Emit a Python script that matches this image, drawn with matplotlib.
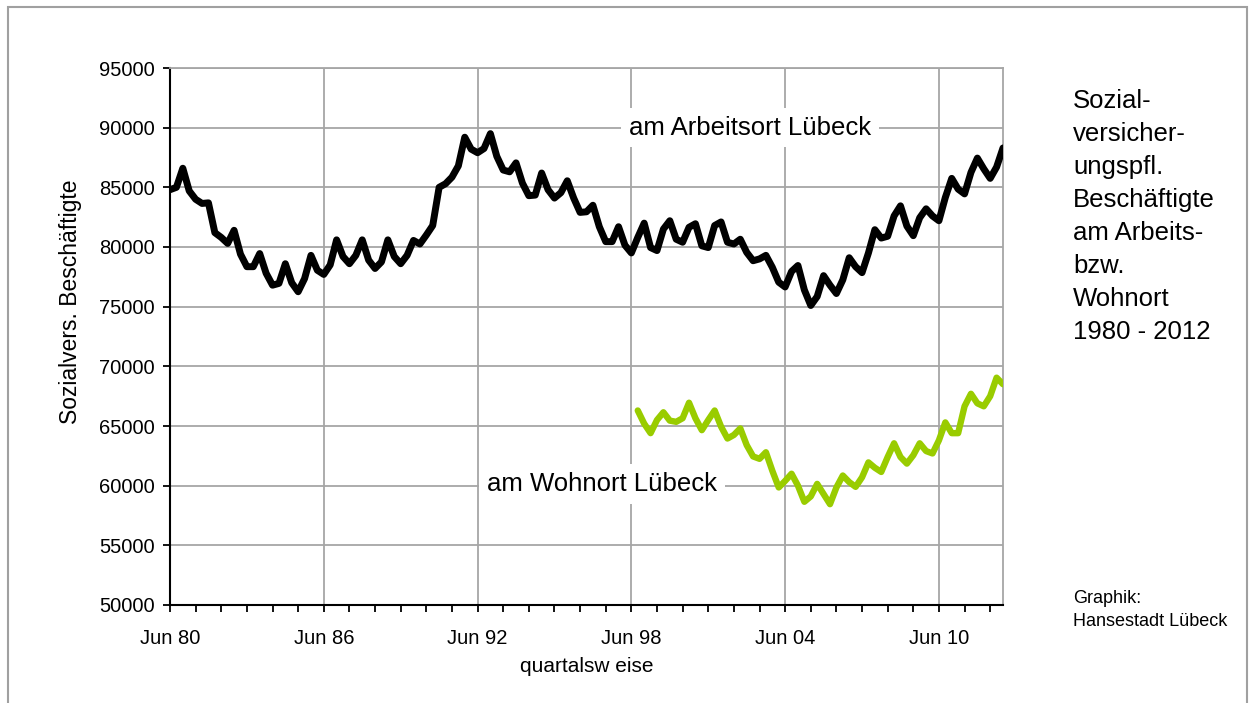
import numpy as np
import matplotlib
matplotlib.use('Agg')
import matplotlib.pyplot as plt
from matplotlib.patches import Rectangle

# quarterly values, first quarter = Jun 80
arbeitsort = [84800, 85000, 86600, 84700, 84000, 83650, 83700, 81200, 80800, 80300,
              81400, 79400, 78350, 78350, 79450, 77800, 76800, 76950, 78600, 77000,
              76250, 77350, 79300, 78050, 77700, 78500, 80600, 79200, 78600, 79300,
              80600, 78900, 78200, 78750, 80600, 79200, 78600, 79300, 80550, 80250,
              81000, 81800, 85000, 85300, 85850, 86800, 89200, 88200, 87900, 88250,
              89500, 87600, 86450, 86300, 87050, 85350, 84300, 84350, 86200, 84800,
              84100, 84550, 85550, 84100, 82900, 82950, 83500, 81700, 80450, 80450,
              81700, 80150, 79500, 80800, 82000, 79950, 79700, 81500, 82200, 80650,
              80400, 81650, 81950, 80100, 79950, 81800, 82100, 80400, 80250, 80650,
              79550, 78850, 79000, 79300, 78300, 77050, 76650, 77950, 78450, 76400,
              75100, 75850, 77600, 76800, 76100, 77250, 79100, 78350, 77850, 79500,
              81450, 80750, 80900, 82600, 83450, 81750, 80950, 82450, 83200, 82600,
              82200, 84150, 85750, 84850, 84450, 86250, 87450, 86550, 85750, 86700,
              88300]

# starts Sep 98 (quarter 73)
wohnort_start = 73
wohnort = [66300, 65200, 64400, 65500, 66150, 65450, 65350, 65650, 66950, 65650,
           64650, 65500, 66300, 64950, 63950, 64250, 64800, 63400, 62450, 62250,
           62800, 61250, 59850, 60400, 61000, 60000, 58650, 59100, 60150, 59300,
           58450, 59850, 60850, 60300, 59900, 60700, 61950, 61500, 61150, 62400,
           63550, 62400, 61850, 62550, 63550, 62900, 62700, 63800, 65300, 64400,
           64400, 66650, 67700, 66900, 66650, 67500, 69050, 68500]

tick_labels = ['Jun 80', 'Jun 86', 'Jun 92', 'Jun 98', 'Jun 04', 'Jun 10']
y_ticks = [50000, 55000, 60000, 65000, 70000, 75000, 80000, 85000, 90000, 95000]

plt.rcParams['font.family'] = ['Liberation Sans', 'DejaVu Sans']

W, H = 1255, 703
fig = plt.figure(figsize=(W / 100, H / 100), dpi=100)
ax = fig.add_axes([170 / W, 1 - 605 / H, (1003 - 170) / W, (605 - 68) / H])

grid_col = '#a6a6a6'

x_a = np.arange(len(arbeitsort))
x_w = np.arange(wohnort_start, wohnort_start + len(wohnort))
ax.plot(x_a, arbeitsort, color='black', lw=5, solid_joinstyle='round', solid_capstyle='round', zorder=3)
ax.plot(x_w, wohnort, color='#99cc00', lw=4.6, solid_joinstyle='round', solid_capstyle='round', zorder=3)

ax.set_xlim(0, len(arbeitsort) - 1)
ax.set_ylim(y_ticks[0], y_ticks[-1])
ax.set_xticks(np.arange(len(tick_labels)) * 24)
ax.set_xticklabels(tick_labels)
ax.set_xticks(np.arange(0, len(arbeitsort), 4), minor=True)
ax.set_yticks(y_ticks)
ax.set_yticklabels([str(v) for v in y_ticks])

ax.set_axisbelow(True)
ax.grid(True, which='major', color=grid_col, lw=1.3)
for s in ['top', 'right']:
    ax.spines[s].set_color(grid_col)
    ax.spines[s].set_linewidth(1.3)
for s in ['left', 'bottom']:
    ax.spines[s].set_color('black')
    ax.spines[s].set_linewidth(1.5)

ax.tick_params(which='both', direction='out', length=5, width=1.3, labelsize=14.5)
ax.tick_params(axis='x', pad=12)
ax.tick_params(axis='y', pad=6)

box = dict(facecolor='white', edgecolor='none', boxstyle='square,pad=0.3')
ax.text(90.5, 90000, 'am Arbeitsort Lübeck', ha='center', va='center', fontsize=18.5, bbox=box, zorder=4)
ax.text(67.4, 60150, 'am Wohnort Lübeck', ha='center', va='center', fontsize=18.5, bbox=box, zorder=4)

fig.text(70 / W, 1 - 302 / H, 'Sozialvers. Beschäftigte', rotation=90, ha='center', va='center', fontsize=16.5)
fig.text(587 / W, 1 - 667 / H, 'quartalsw eise', ha='center', va='center', fontsize=15)

fig.text(1073 / W, 1 - 89 / H,
         'Sozial-\nversicher-\nungspfl.\nBeschäftigte\nam Arbeits-\nbzw.\nWohnort\n1980 - 2012',
         ha='left', va='top', fontsize=18.5, linespacing=1.47)
fig.text(1073 / W, 1 - 590 / H, 'Graphik:\nHansestadt Lübeck', ha='left', va='top', fontsize=13, linespacing=1.5)

fig.patches.append(Rectangle((7.5 / W, -0.1), (1247 - 7.5) / W, (H - 7.5) / H + 0.1,
                             transform=fig.transFigure, fill=False, edgecolor='#a0a0a0', lw=1.5))

fig.savefig('out.png', dpi=100)
